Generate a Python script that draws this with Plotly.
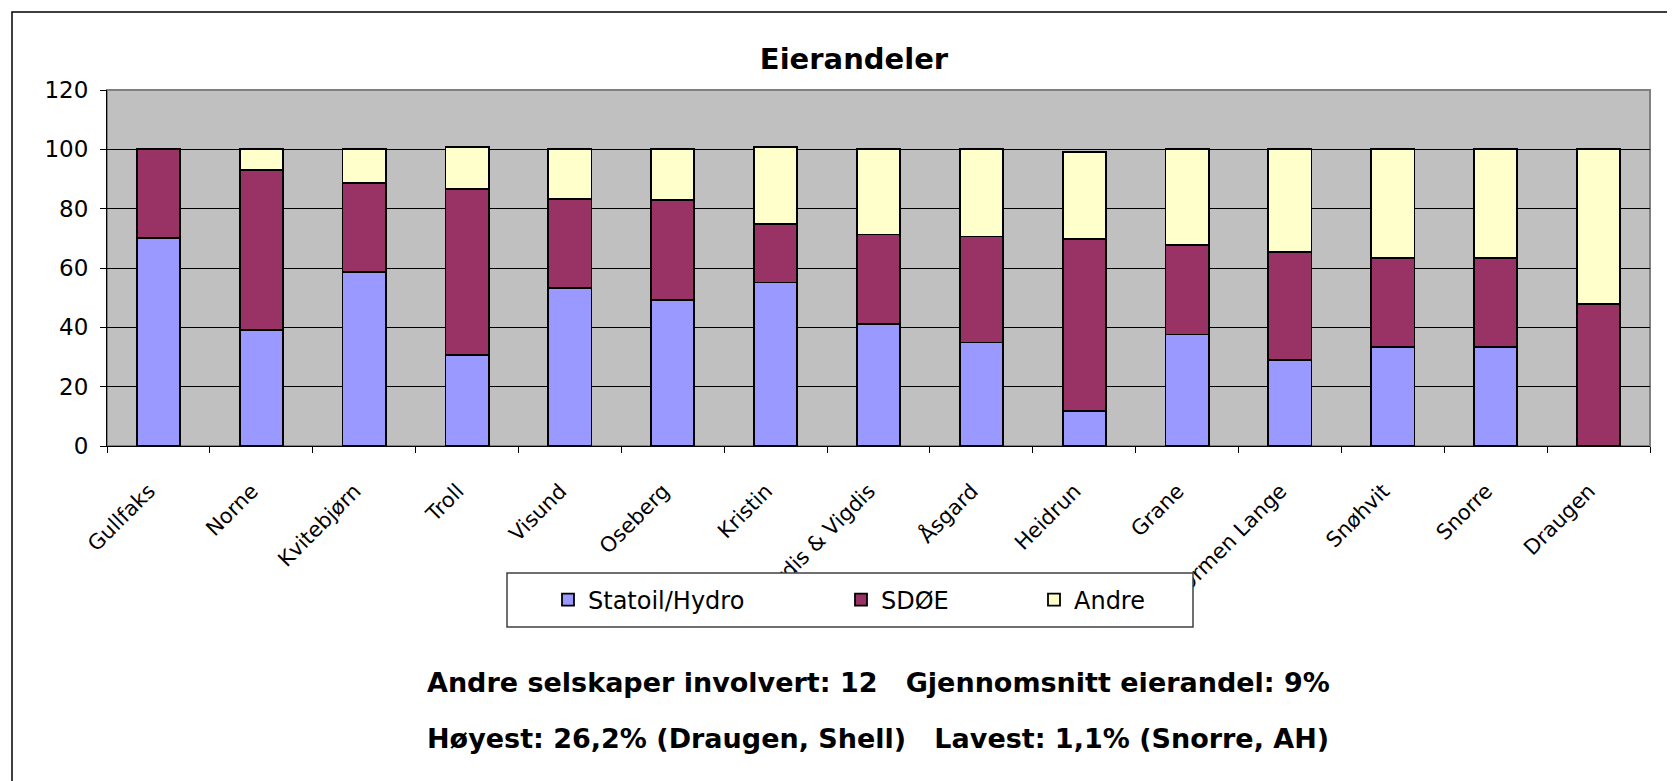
import plotly.graph_objects as go

# felt og eierandeler (prosent)
felt = ["Gullfaks", "Norne", "Kvitebjørn", "Troll", "Visund", "Oseberg", "Kristin",
        "Tordis & Vigdis", "Åsgard", "Heidrun", "Grane", "Ormen Lange", "Snøhvit",
        "Snorre", "Draugen"]
statoil_hydro = [70, 39.1, 58.55, 30.6, 53.2, 49.3, 55.1, 41.2, 34.9, 11.8, 37.6, 28.9, 33.5, 33.3, 0]
sdoe = [30, 54, 30, 56, 30, 33.6, 19.6, 30.1, 35.7, 58.1, 30.2, 36.5, 30, 30, 47.9]
andre = [0, 6.9, 11.45, 14.1, 16.8, 17.1, 26.0, 28.7, 29.4, 29.3, 32.2, 34.6, 36.5, 36.7, 52.1]

serier = [("Statoil/Hydro", statoil_hydro, "#9999FF", "legend"),
          ("SDØE", sdoe, "#993366", "legend2"),
          ("Andre", andre, "#FFFFCC", "legend3")]

FONT = "DejaVu Sans"
OFF = 8  # siden har 8 px marg rundt figuren

fig = go.Figure()
for navn, verdier, farge, leg in serier:
    fig.add_trace(go.Bar(x=felt, y=verdier, name=navn, legend=leg,
                         marker=dict(color=farge, line=dict(color="black", width=1.8))))

# plotområdet på skjermen: 107..1650 x 90..446
L, R, T, B = 107, 1650, 90, 446
def px(x):
    return (x - L) / (R - L)
def py(y):
    return (B - y) / (B - T)

leg_felles = dict(orientation="h", yanchor="middle", y=py(600), xanchor="left",
                  bgcolor="rgba(0,0,0,0)", borderwidth=0,
                  font=dict(family=FONT, size=24, color="black"))

# ekstra mellomrom flytter de skrå etikettene litt ned/til venstre
etiketter = [f + "\u00a0\u00a0" for f in felt]

fig.update_layout(
    width=1675, height=781,
    barmode="stack", bargap=0.58, showlegend=True,
    paper_bgcolor="white", plot_bgcolor="#C0C0C0",
    margin=dict(l=L - OFF, r=1675 - R + OFF, t=T - OFF, b=781 - B + OFF),
    title=dict(text="<b>Eierandeler</b>", xref="paper", x=px(854), xanchor="center",
               yref="container", y=1 - (59 - OFF) / 781, yanchor="middle",
               font=dict(family=FONT, size=29, color="black")),
    legend=dict(x=px(548), **leg_felles),
    legend2=dict(x=px(841), **leg_felles),
    legend3=dict(x=px(1034), **leg_felles),
    xaxis=dict(tickangle=-45, tickson="boundaries", ticks="outside", ticklen=6,
               tickcolor="black", showline=True, linecolor="black", linewidth=1,
               showgrid=False, ticklabelstandoff=14,
               tickmode="array", tickvals=felt, ticktext=etiketter,
               tickfont=dict(family=FONT, size=21, color="black")),
    yaxis=dict(range=[0, 120], dtick=20, ticks="outside", ticklen=6, tickcolor="black",
               showline=True, linecolor="black", linewidth=1,
               gridcolor="black", gridwidth=1, zeroline=False, ticklabelstandoff=7,
               tickfont=dict(family=FONT, size=23, color="black")),
    shapes=[
        # grå ramme rundt plotområdet (topp/høyre)
        dict(type="rect", xref="paper", yref="paper", x0=0, x1=1, y0=0, y1=1,
             line=dict(color="#808080", width=2), layer="below"),
        # ytre ramme
        dict(type="rect", xref="paper", yref="paper", x0=px(12), x1=px(1720),
             y0=py(820), y1=py(12), line=dict(color="black", width=1.5)),
        # legendeboks
        dict(type="rect", xref="paper", yref="paper", x0=px(507), x1=px(1193),
             y0=py(627), y1=py(573), fillcolor="white",
             line=dict(color="#404040", width=1.5), layer="above"),
    ],
    annotations=[
        dict(text="<b>Andre selskaper involvert: 12   Gjennomsnitt eierandel: 9%</b>",
             xref="paper", yref="paper", x=px(425), y=py(682), xanchor="left",
             yanchor="middle", showarrow=False,
             font=dict(family=FONT, size=27, color="black")),
        dict(text="<b>Høyest: 26,2% (Draugen, Shell)   Lavest: 1,1% (Snorre, AH)</b>",
             xref="paper", yref="paper", x=px(425), y=py(738), xanchor="left",
             yanchor="middle", showarrow=False,
             font=dict(family=FONT, size=27, color="black")),
    ],
)

fig.write_html("out.html")
